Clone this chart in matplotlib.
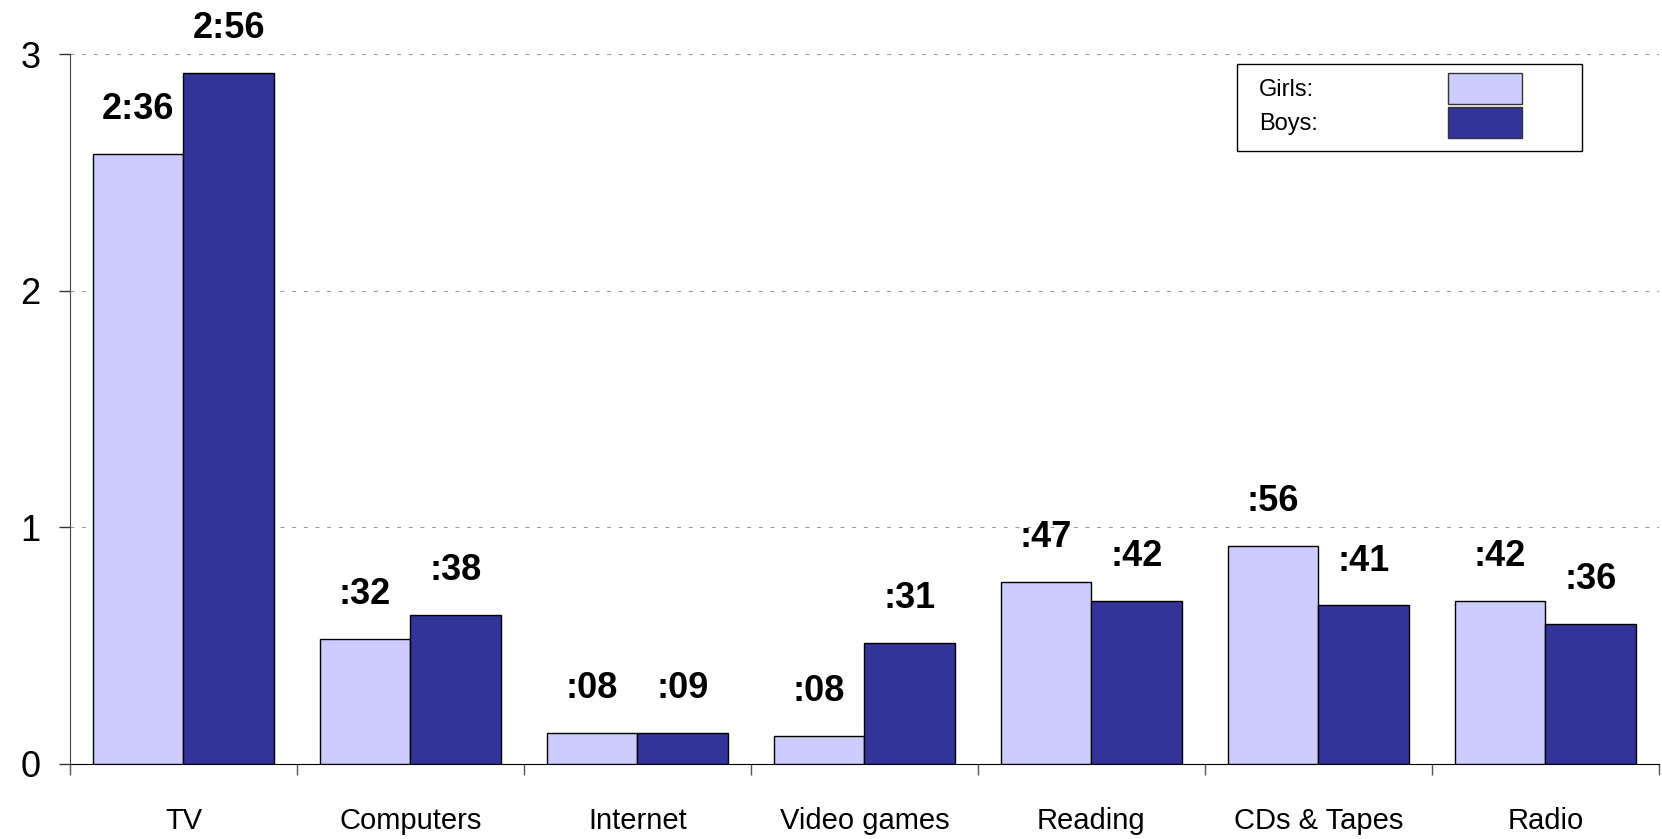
"""Daily media time by activity, girls vs boys."""

import numpy as np
from matplotlib import pyplot as plt
from matplotlib.patches import Rectangle

categories = ['TV', 'Computers', 'Internet', 'Video games', 'Reading', 'CDs & Tapes', 'Radio']
girls = [2.58, 0.53, 0.13, 0.12, 0.77, 0.92, 0.69]
boys = [2.92, 0.63, 0.13, 0.51, 0.69, 0.67, 0.59]
girls_labels = ['2:36', ':32', ':08', ':08', ':47', ':56', ':42']
boys_labels = ['2:56', ':38', ':09', ':31', ':42', ':41', ':36']
yticks = [0, 1, 2, 3]
series_names = ['Girls:', 'Boys:']

GIRL_C = '#CCCCFF'
BOY_C = '#333399'
W = 0.4
FW, FH = 1662, 839

fig = plt.figure(figsize=(FW / 100, FH / 100), dpi=100)
ax = fig.add_axes([70 / FW, 0.0894, 0.956, 0.846])

x = np.arange(len(categories))
bg = ax.bar(x - W / 2, girls, W, color=GIRL_C, edgecolor='black', linewidth=1, zorder=3)
bb = ax.bar(x + W / 2, boys, W, color=BOY_C, edgecolor='black', linewidth=1, zorder=3)

for bars, labels in ((bg, girls_labels), (bb, boys_labels)):
    for b, t in zip(bars, labels):
        ax.annotate(t, (b.get_x() + b.get_width() / 2, b.get_height()),
                    xytext=(0, 32), textcoords='offset points',
                    ha='center', va='center', fontsize=26, fontweight='bold',
                    family='Liberation Sans', annotation_clip=False)

ax.set_xlim(-0.5, len(categories) - 0.5)
ax.set_ylim(0, 3)
ax.set_yticks(yticks)
ax.set_yticklabels([str(v) for v in yticks], fontsize=26, family='Liberation Sans')
ax.tick_params(axis='y', length=8, width=1, pad=13, color='#333333')

ax.set_xticks(x)
ax.set_xticklabels(categories, fontsize=21, family='Liberation Sans')
ax.set_xticks(np.arange(len(categories) + 1) - 0.5, minor=True)
ax.tick_params(axis='x', which='major', length=0, pad=31)
ax.tick_params(axis='x', which='minor', length=8, width=1, color='#555555', direction='out')

ax.yaxis.grid(True, linestyle=(0, (3.5, 7)), color='#999999', linewidth=0.8, zorder=0)
ax.set_axisbelow(True)
for s in ('top', 'right'):
    ax.spines[s].set_visible(False)
ax.spines['left'].set_color('#444444')
ax.spines['bottom'].set_color('black')

# legend box drawn by hand: label text on the left, swatch on the right
fig.add_artist(Rectangle((1237 / FW, 1 - 151 / FH), 345 / FW, 87 / FH,
                         transform=fig.transFigure, facecolor='white',
                         edgecolor='black', linewidth=1, zorder=5))
for i, (name, col) in enumerate(zip(series_names, [GIRL_C, BOY_C])):
    top = 73 + i * 34
    fig.add_artist(Rectangle((1448 / FW, 1 - (top + 31) / FH), 74 / FW, 31 / FH,
                             transform=fig.transFigure, facecolor=col,
                             edgecolor='#333333', linewidth=1, zorder=6))
    fig.text(1259 / FW, 1 - (top + 17) / FH, name, fontsize=17, family='Liberation Sans',
             ha='left', va='center', zorder=6)

plt.savefig('out.png')
plt.close()
